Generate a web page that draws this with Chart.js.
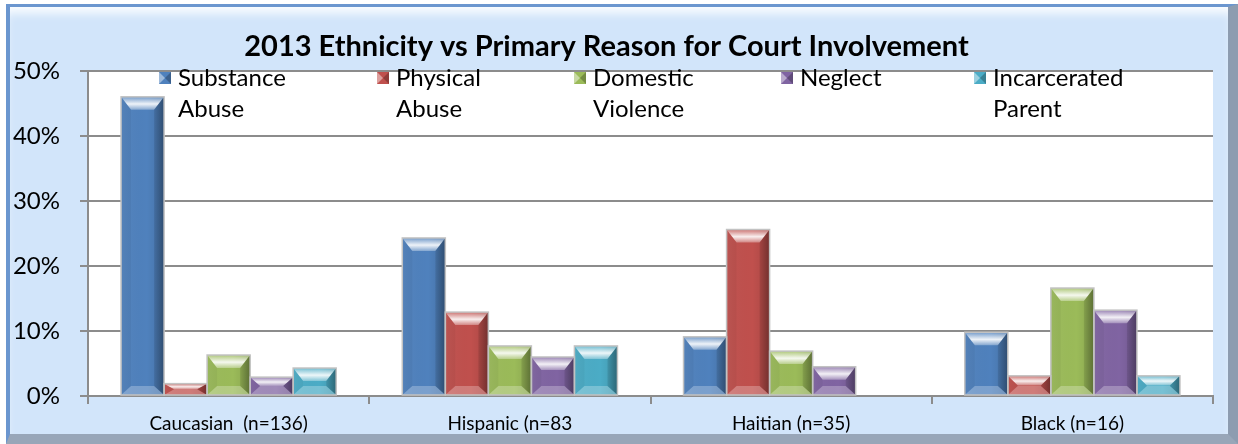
<!DOCTYPE html>
<html>
<head>
<meta charset="utf-8">
<script src="https://cdn.jsdelivr.net/npm/chart.js@4"></script>
<style>
  html, body { margin: 0; padding: 0; background: #ffffff; }
  #wrap { position: relative; width: 1238px; height: 444px; overflow: hidden; }
  #frame {
    position: absolute; left: 6px; top: 4px; width: 1232px; height: 440px;
    box-sizing: border-box;
    background: #d2e5fa;
    border-top: 3px solid #6b96cf;
    border-left: 4px solid #6b96cf;
    border-right: 10px solid #8d9cb0;
    border-bottom: 10px solid #98a6b8;
    box-shadow: inset 0 10px 10px -4px rgba(255,255,255,0.9);
  }
  canvas { position: absolute; left: 0; top: 0; }
</style>
</head>
<body>
<div id="wrap">
  <div id="frame"></div>
  <canvas id="chart" width="1238" height="444"></canvas>
</div>
<script>
document.addEventListener("DOMContentLoaded", function () {
  const chartTitle = "2013 Ethnicity vs Primary Reason for Court Involvement";
  const categories = ["Caucasian  (n=136)", "Hispanic (n=83", "Haitian (n=35)", "Black (n=16)"];
  const seriesNames = [["Substance", "Abuse"], ["Physical", "Abuse"], ["Domestic", "Violence"], ["Neglect"], ["Incarcerated", "Parent"]];
  const seriesColors = ["#4f81bd", "#c0504d", "#9bbb59", "#8064a2", "#4bacc6"];

  // percent of cases
  const substanceAbuse = [46.0, 24.3, 9.1, 9.8];
  const physicalAbuse = [1.9, 12.9, 25.6, 3.1];
  const domesticViolence = [6.3, 7.7, 6.9, 16.6];
  const neglect = [2.9, 6.0, 4.5, 13.2];
  const incarceratedParent = [4.3, 7.7, null, 3.1];
  const seriesValues = [substanceAbuse, physicalAbuse, domesticViolence, neglect, incarceratedParent];

  const yTicks = [0, 10, 20, 30, 40, 50];
  const FONT = "Lato, 'Liberation Sans', sans-serif";
  const GRID = "#8c8c8c";

  const plotBackground = {
    id: "plotBackground",
    beforeDraw(chart) {
      const { ctx, chartArea: a } = chart;
      ctx.save();
      ctx.fillStyle = "#ffffff";
      ctx.fillRect(a.left, a.top, a.right - a.left, a.bottom - a.top);
      ctx.restore();
    }
  };

  // bevelled look of the Excel bars
  const bevel = {
    id: "bevel",
    afterDatasetsDraw(chart) {
      const ctx = chart.ctx;
      chart.data.datasets.forEach((ds, i) => {
        const meta = chart.getDatasetMeta(i);
        meta.data.forEach((el, j) => {
          if (ds.data[j] == null) return;
          const p = el.getProps(["x", "y", "base", "width"], true);
          const l = p.x - p.width / 2, r = p.x + p.width / 2;
          const t = Math.min(p.y, p.base), bt = Math.max(p.y, p.base);
          const h = bt - t;
          const bx = Math.min(10, p.width / 4);
          const byT = Math.min(13, h / 2);
          const byB = Math.min(9, h / 2);
          ctx.save();
          const poly = (pts, fill) => {
            ctx.beginPath();
            ctx.moveTo(pts[0][0], pts[0][1]);
            pts.slice(1).forEach(q => ctx.lineTo(q[0], q[1]));
            ctx.closePath();
            ctx.fillStyle = fill;
            ctx.fill();
          };
          const face = ctx.createLinearGradient(l, 0, r, 0);
          face.addColorStop(0, "rgba(255,255,255,0.05)");
          face.addColorStop(0.6, "rgba(0,0,0,0)");
          face.addColorStop(1, "rgba(0,0,0,0.12)");
          ctx.fillStyle = face;
          ctx.fillRect(l, t, r - l, h);
          const g = ctx.createLinearGradient(0, t, 0, t + byT);
          g.addColorStop(0, "rgba(255,255,255,0.2)");
          g.addColorStop(0.55, "rgba(255,255,255,0.9)");
          g.addColorStop(1, "rgba(255,255,255,0.3)");
          poly([[l, t], [r, t], [r - bx, t + byT], [l + bx, t + byT]], g);
          const rg = ctx.createLinearGradient(r - bx, 0, r, 0);
          rg.addColorStop(0, "rgba(0,0,0,0.1)");
          rg.addColorStop(1, "rgba(0,0,0,0.32)");
          poly([[r, t], [r - bx, t + byT], [r - bx, bt - byB], [r, bt]], rg);
          poly([[l, t], [l + bx, t + byT], [l + bx, bt - byB], [l, bt]], "rgba(0,0,0,0.04)");
          poly([[l, bt], [l + bx, bt - byB], [r - bx, bt - byB], [r, bt]], "rgba(255,255,255,0.25)");
          ctx.strokeStyle = "#c2c2c2";
          ctx.lineWidth = 1.5;
          ctx.strokeRect(l, t, r - l, h);
          ctx.restore();
        });
      });
    }
  };

  // legend with wrapped labels, laid inside the plot area
  const wrappedLegend = {
    id: "wrappedLegend",
    afterDraw(chart, args, opts) {
      const ctx = chart.ctx;
      ctx.save();
      ctx.font = "24px " + FONT;
      ctx.textBaseline = "middle";
      chart.data.datasets.forEach((ds, i) => {
        const x = opts.textX[i];
        ctx.fillStyle = ds.backgroundColor;
        ctx.fillRect(x - 19, opts.top - 6, 12, 12);
        ctx.fillStyle = "rgba(255,255,255,0.45)";
        ctx.beginPath();
        ctx.moveTo(x - 19, opts.top - 6); ctx.lineTo(x - 13, opts.top); ctx.lineTo(x - 19, opts.top + 6);
        ctx.closePath(); ctx.fill();
        ctx.fillStyle = "rgba(0,0,0,0.25)";
        ctx.beginPath();
        ctx.moveTo(x - 7, opts.top - 6); ctx.lineTo(x - 13, opts.top); ctx.lineTo(x - 7, opts.top + 6);
        ctx.closePath(); ctx.fill();
        ctx.fillStyle = "#000000";
        seriesNames[i].forEach((line, k) => {
          ctx.fillText(line, x, opts.top + k * opts.lineGap);
        });
      });
      ctx.restore();
    }
  };

  const ctx = document.getElementById("chart").getContext("2d");
  new Chart(ctx, {
    type: "bar",
    data: {
      labels: categories,
      datasets: seriesValues.map((vals, i) => ({
        label: seriesNames[i].join(" "),
        data: vals,
        backgroundColor: seriesColors[i],
        borderWidth: 0,
        categoryPercentage: 0.765,
        barPercentage: 1.0
      }))
    },
    plugins: [plotBackground, bevel, wrappedLegend],
    options: {
      responsive: false,
      animation: false,
      devicePixelRatio: 1,
      layout: { padding: { top: 0, right: 25, bottom: 0, left: 0 } },
      plugins: {
        legend: { display: false },
        tooltip: { enabled: false },
        title: {
          display: true,
          text: chartTitle,
          color: "#000000",
          font: { family: FONT, size: 29, weight: "bold", lineHeight: 1.2 },
          padding: { top: 29, bottom: 7 }
        },
        wrappedLegend: { textX: [178, 396, 593, 800, 993], top: 78, lineGap: 31 }
      },
      scales: {
        y: {
          min: 0,
          max: 50,
          afterBuildTicks(scale) { scale.ticks = yTicks.map(v => ({ value: v })); },
          afterFit(scale) { scale.width = 88; },
          ticks: {
            color: "#000000",
            padding: 20,
            font: { family: FONT, size: 24 },
            callback: v => v + "%"
          },
          grid: { color: GRID, lineWidth: 2, tickLength: 8 },
          border: { display: true, color: GRID, width: 2 }
        },
        x: {
          afterFit(scale) { scale.height = 48; },
          ticks: { color: "#000000", padding: 8, font: { family: FONT, size: 19 } },
          grid: { offset: true, drawOnChartArea: false, color: GRID, lineWidth: 2, tickLength: 8 },
          border: { display: true, color: GRID, width: 2 }
        }
      }
    }
  });
});
</script>
</body>
</html>
